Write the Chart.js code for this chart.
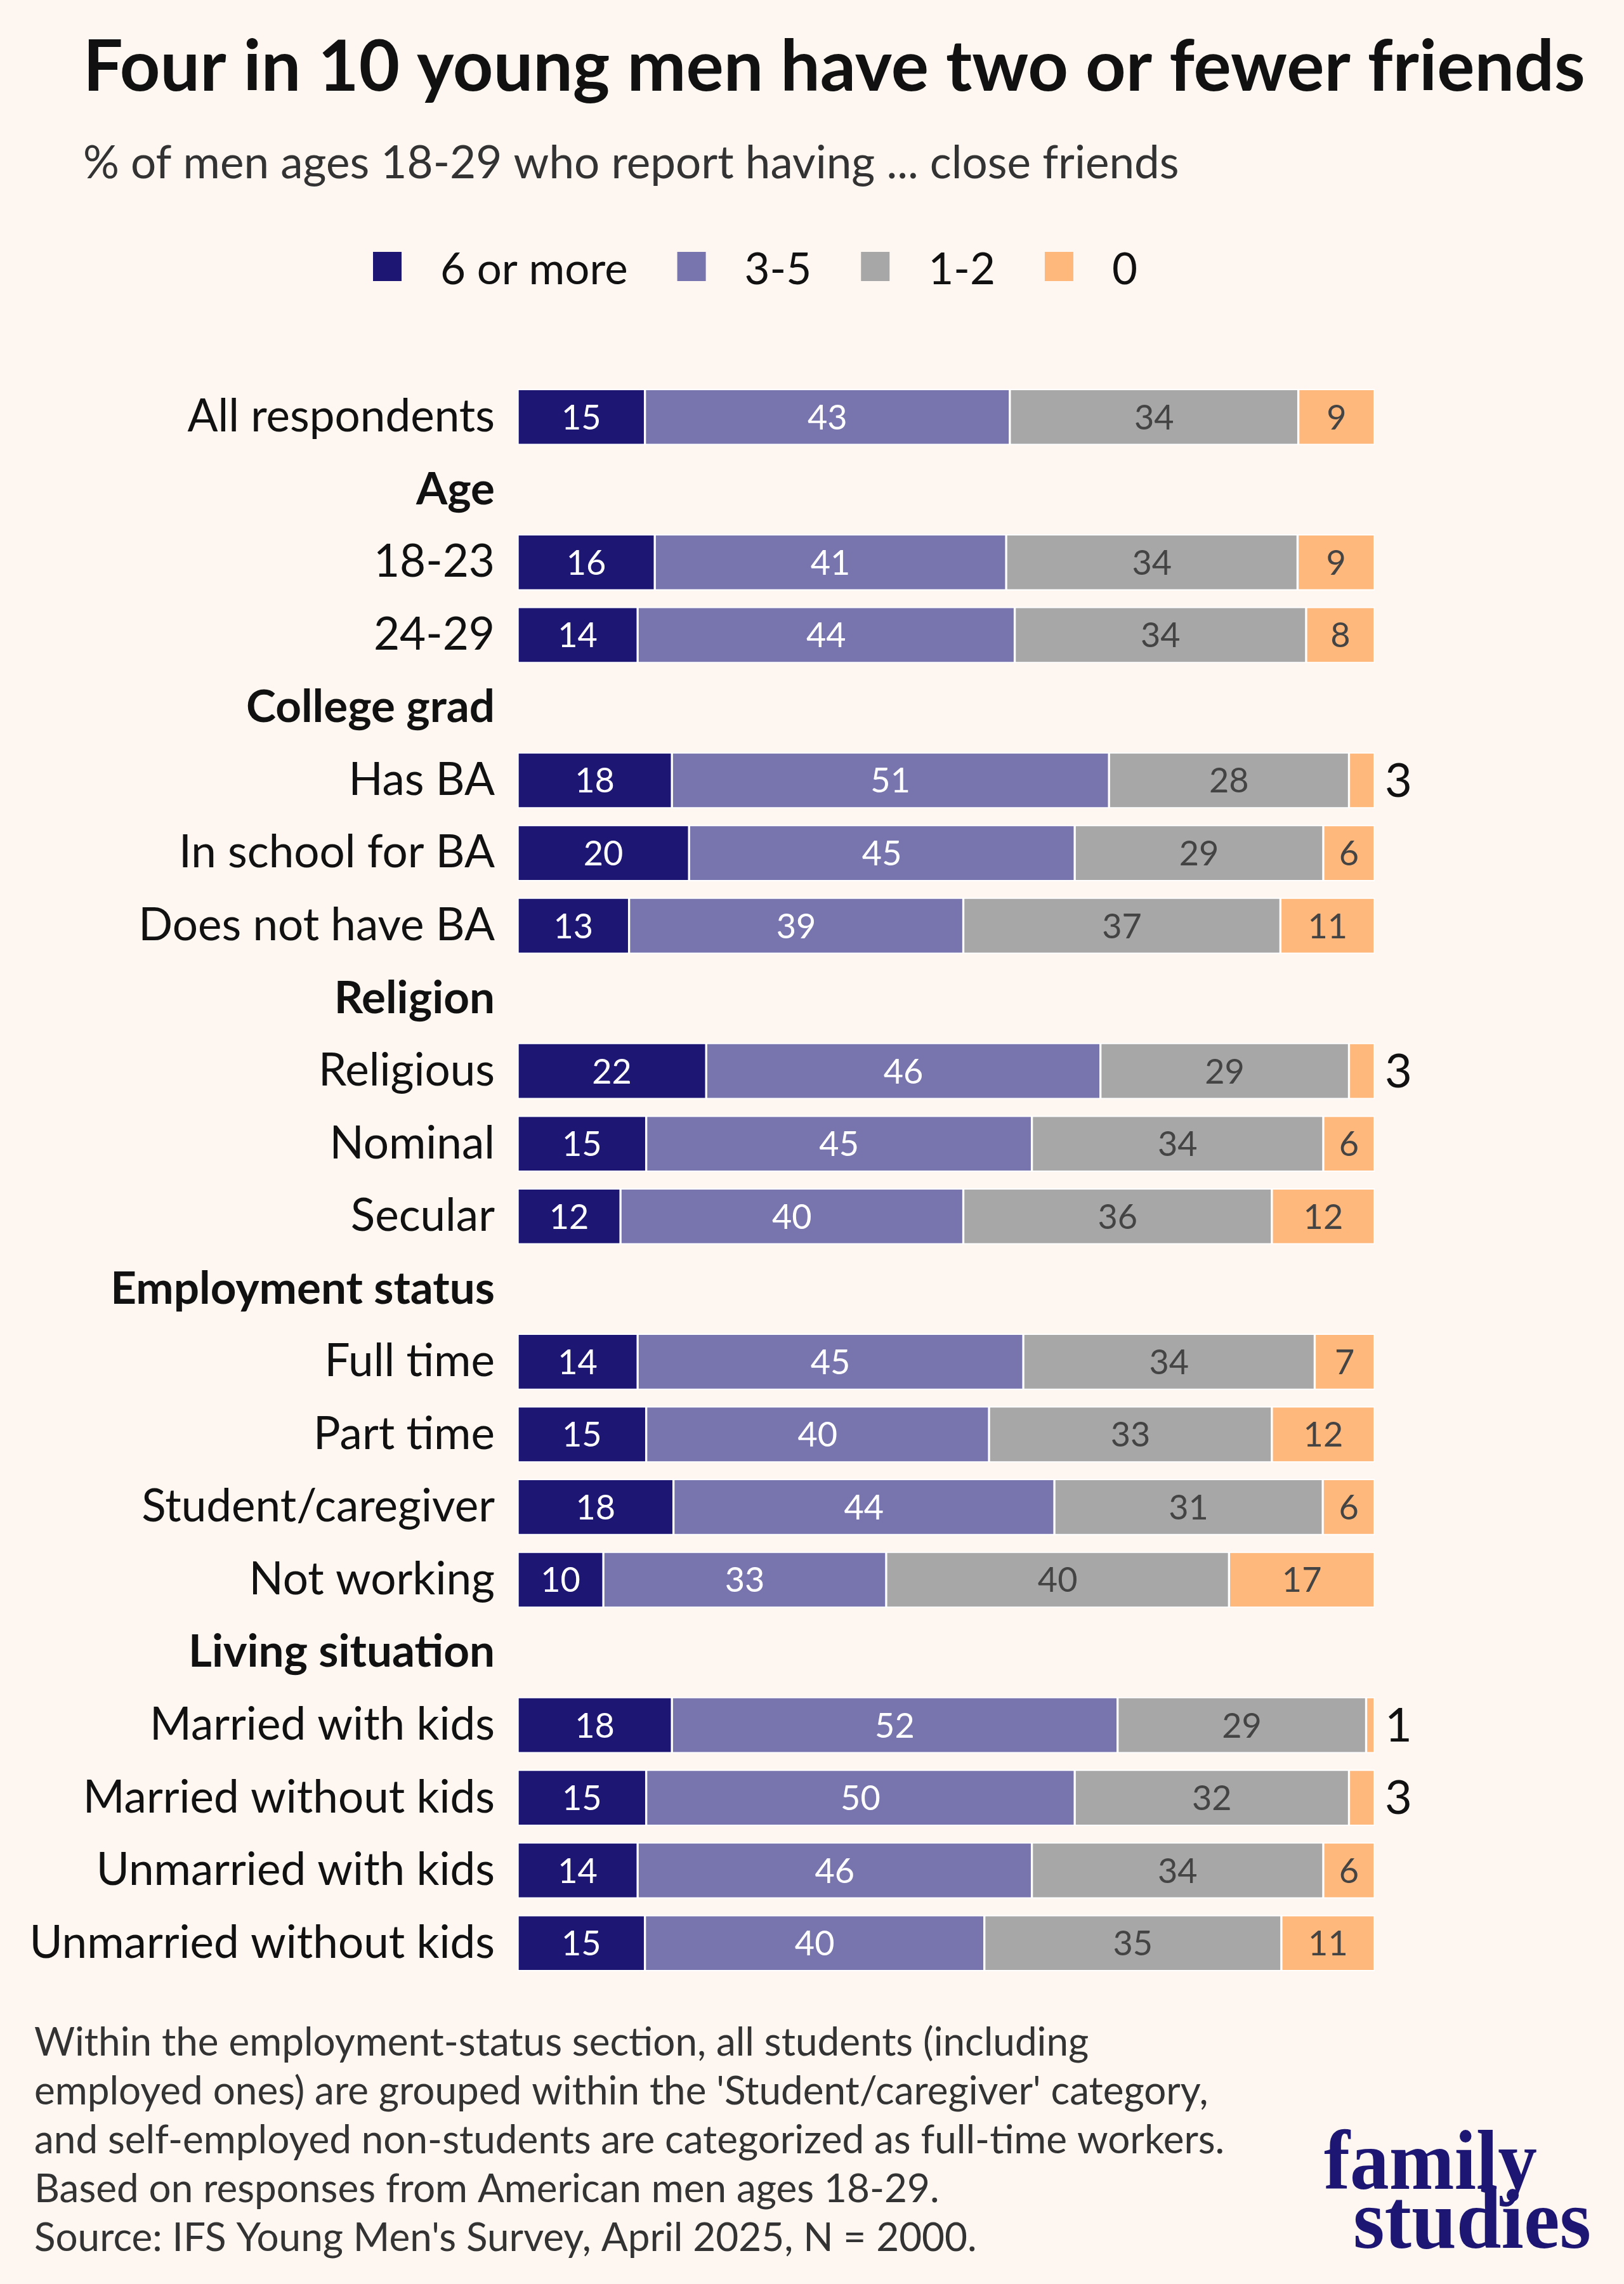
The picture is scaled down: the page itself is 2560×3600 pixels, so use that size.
<!DOCTYPE html>
<html>
<head>
<meta charset="utf-8">
<script src="https://cdn.jsdelivr.net/npm/chart.js@4.4.0/dist/chart.umd.min.js"></script>
<style>
  html, body { margin: 0; padding: 0; background: #fef7f1; }
  #wrap { width: 2560px; height: 3600px; }
</style>
</head>
<body>
<div id="wrap"><canvas id="chart" width="2560" height="3600"></canvas></div>
<script>
// rows of the chart, section headers have no bars
const categories = [
    'All respondents',
    'Age', '18-23', '24-29',
    'College grad', 'Has BA', 'In school for BA', 'Does not have BA',
    'Religion', 'Religious', 'Nominal', 'Secular',
    'Employment status', 'Full time', 'Part time', 'Student/caregiver', 'Not working',
    'Living situation', 'Married with kids', 'Married without kids', 'Unmarried with kids', 'Unmarried without kids',
];
const headers = ['Age', 'College grad', 'Religion', 'Employment status', 'Living situation'];

const seriesNames = ['6 or more', '3-5', '1-2', '0'];
const seriesColors = ['#1e1673', '#7874ae', '#a7a7a7', '#ffb87c'];
const labelColors = ['#ffffff', '#ffffff', '#444444', '#444444'];

const sixOrMore   = [15, null, 16, 14, null, 18, 20, 13, null, 22, 15, 12, null, 14, 15, 18, 10, null, 18, 15, 14, 15];
const threeToFive = [43, null, 41, 44, null, 51, 45, 39, null, 46, 45, 40, null, 45, 40, 44, 33, null, 52, 50, 46, 40];
const oneToTwo    = [34, null, 34, 34, null, 28, 29, 37, null, 29, 34, 36, null, 34, 33, 31, 40, null, 29, 32, 34, 35];
const zeroFriends = [9, null, 9, 8, null, 3, 6, 11, null, 3, 6, 12, null, 7, 12, 6, 17, null, 1, 3, 6, 11];

const footnote = [
    'Within the employment-status section, all students (including',
    "employed ones) are grouped within the 'Student/caregiver' category,",
    'and self-employed non-students are categorized as full-time workers.',
    'Based on responses from American men ages 18-29.',
    "Source: IFS Young Men's Survey, April 2025, N = 2000.",
];

const rawSeries = [sixOrMore, threeToFive, oneToTwo, zeroFriends];

// bars all run to the same right edge, so share of each row total
const rowTotals = categories.map((c, i) =>
    rawSeries.reduce((sum, s) => sum + (s[i] || 0), 0));

const datasets = rawSeries.map((s, k) => ({
    label: seriesNames[k],
    data: s.map((v, i) => (v == null ? null : (v / rowTotals[i]) * 100)),
    backgroundColor: seriesColors[k],
    borderColor: '#ffffff',
    borderWidth: 2,
    borderSkipped: false,
    barThickness: 88,
}));

const BG = '#fef7f1';
const FONT = 'Lato, "Noto Sans", sans-serif';

const backgroundPlugin = {
    id: 'background',
    beforeDraw(chart) {
        const ctx = chart.ctx;
        ctx.save();
        ctx.fillStyle = BG;
        ctx.fillRect(0, 0, chart.width, chart.height);
        ctx.restore();
    },
};

const barLabelsPlugin = {
    id: 'barLabels',
    afterDatasetsDraw(chart) {
        const ctx = chart.ctx;
        ctx.save();
        ctx.textBaseline = 'middle';
        chart.data.datasets.forEach((ds, k) => {
            const meta = chart.getDatasetMeta(k);
            meta.data.forEach((bar, i) => {
                const raw = rawSeries[k][i];
                if (raw == null) return;
                const { x, base, y } = bar.getProps(['x', 'base', 'y'], true);
                if (raw <= 3) {
                    ctx.font = '74px ' + FONT;
                    ctx.fillStyle = '#111111';
                    ctx.textAlign = 'left';
                    ctx.fillText(String(raw), x + 16, y + 2);
                } else {
                    ctx.font = '54px ' + FONT;
                    ctx.fillStyle = labelColors[k];
                    ctx.textAlign = 'center';
                    ctx.fillText(String(raw), (x + base) / 2, y + 2);
                }
            });
        });
        ctx.restore();
    },
};

const textPlugin = {
    id: 'texts',
    afterDraw(chart) {
        const ctx = chart.ctx;
        ctx.save();
        ctx.textBaseline = 'alphabetic';
        ctx.textAlign = 'left';

        // title and subtitle
        ctx.fillStyle = '#111111';
        ctx.font = 'bold 111px ' + FONT;
        ctx.fillText('Four in 10 young men have two or fewer friends', 131, 143);
        ctx.fillStyle = '#333333';
        ctx.font = '71px ' + FONT;
        ctx.fillText('% of men ages 18-29 who report having ... close friends', 131, 281);

        // legend
        let lx = 588;
        ctx.font = '69px ' + FONT;
        chart.data.datasets.forEach((ds) => {
            ctx.fillStyle = ds.backgroundColor;
            ctx.fillRect(lx, 397, 45, 46);
            lx += 45 + 61;
            ctx.fillStyle = '#111111';
            ctx.fillText(ds.label, lx, 448);
            lx += ctx.measureText(ds.label).width + 78;
        });

        // footnote
        ctx.fillStyle = '#333333';
        ctx.font = '62px ' + FONT;
        footnote.forEach((line, i) => ctx.fillText(line, 54, 3240 + i * 77));

        // logo
        ctx.fillStyle = '#1e1673';
        ctx.font = 'bold 133px "Liberation Serif", serif';
        const drawFit = (txt, x0, x1, yb) => {
            const w = ctx.measureText(txt).width;
            ctx.save();
            ctx.translate(x0, yb);
            ctx.scale((x1 - x0) / w, 1);
            ctx.fillText(txt, 0, 0);
            ctx.restore();
        };
        drawFit('family', 2087, 2423, 3450);
        drawFit('studies', 2133, 2508, 3543);
        ctx.restore();
    },
};

new Chart(document.getElementById('chart'), {
    type: 'bar',
    data: { labels: categories, datasets: datasets },
    options: {
        indexAxis: 'y',
        responsive: false,
        animation: false,
        devicePixelRatio: 1,
        layout: { padding: { top: 600, bottom: 480, right: 393, left: 0 } },
        plugins: {
            legend: { display: false },
            tooltip: { enabled: false },
        },
        scales: {
            x: { stacked: true, min: 0, max: 100, display: false },
            y: {
                stacked: true,
                grid: { display: false },
                border: { display: false },
                afterFit(scale) { scale.width = 816; },
                ticks: {
                    padding: 28,
                    color: '#111111',
                    font: (c) => ({
                        family: FONT,
                        size: 71,
                        weight: headers.includes(categories[c.index]) ? 'bold' : 'normal',
                    }),
                },
            },
        },
    },
    plugins: [backgroundPlugin, barLabelsPlugin, textPlugin],
});
</script>
</body>
</html>
